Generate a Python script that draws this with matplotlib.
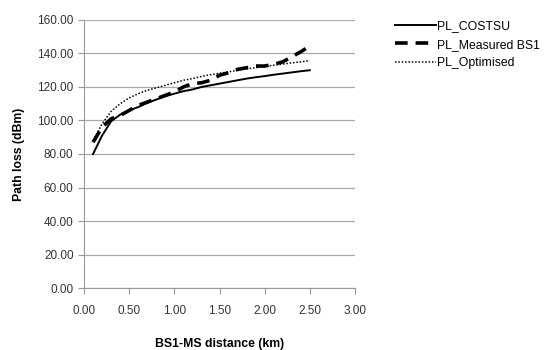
import matplotlib
matplotlib.use("Agg")
import matplotlib.pyplot as plt

# distances (km) and path loss values (dBm)
distance = [0.1, 0.2, 0.3, 0.4, 0.5, 0.6, 0.7, 0.8, 0.9, 1.0,
            1.1, 1.2, 1.3, 1.4, 1.5, 1.6, 1.7, 1.8, 1.9, 2.0,
            2.1, 2.2, 2.3, 2.4, 2.5]
pl_costsu = [80, 91, 99.5, 103.5, 106, 108, 110.5, 112.5, 114.5, 116,
             117.5, 118.5, 120, 121, 122, 123, 124, 125, 125.8, 126.5,
             127.3, 128, 128.7, 129.4, 130]
pl_measured = [87, 96, 101, 103, 106, 109, 111, 113, 115, 117,
               120, 122, 122.5, 124, 127, 128.5, 130.5, 131.5, 132.5, 132.5,
               133.5, 135, 138, 141, 144.5]
pl_optimised = [88, 98, 105.5, 110, 113.5, 116, 118, 119.5, 121, 122.5,
                124, 125, 126.3, 127.3, 128.2, 129, 130, 130.8, 131.5, 132.2,
                133, 133.7, 134.4, 135, 135.7]

x_ticks = [0.0, 0.5, 1.0, 1.5, 2.0, 2.5, 3.0]
y_ticks = [0, 20, 40, 60, 80, 100, 120, 140, 160]

plt.rcParams['font.family'] = ['Liberation Sans', 'DejaVu Sans']

fig = plt.figure(figsize=(5.47, 3.5), dpi=100)
ax = fig.add_axes([0.1536, 0.177, 0.4954, 0.766])

ax.plot(distance, pl_costsu, color='black', lw=1.4, label='PL_COSTSU')
ax.plot(distance, pl_measured, color='black', lw=2.6, dashes=(3.5, 2.2),
        label='PL_Measured BS1')
ax.plot(distance, pl_optimised, color='black', lw=1.1, dashes=(1, 1.2),
        label='PL_Optimised')

ax.set_xlim(0, 3)
ax.set_ylim(0, 160)
ax.set_xticks(x_ticks)
ax.set_yticks(y_ticks)
ax.set_xticklabels([f"{v:.2f}" for v in x_ticks])
ax.set_yticklabels([f"{v:.2f}" for v in y_ticks])
ax.tick_params(colors='#999999', labelcolor='#333333', labelsize=8.5,
               length=4, width=0.8)
ax.tick_params(axis='x', pad=8)
ax.grid(axis='y', color='#aaaaaa', lw=0.9)
ax.set_axisbelow(True)
for s in ['top', 'right']:
    ax.spines[s].set_visible(False)
for s in ['left', 'bottom']:
    ax.spines[s].set_color('#999999')

ax.set_xlabel('BS1-MS distance (km)', fontsize=8.8, fontweight='bold', labelpad=15)
ax.set_ylabel('Path loss (dBm)', fontsize=8.8, fontweight='bold', labelpad=9)

fig.legend(loc='upper left', bbox_to_anchor=(0.722, 0.943), frameon=False,
           fontsize=8.8, handlelength=3.35, handletextpad=0.1,
           labelspacing=0.55, borderpad=0, borderaxespad=0)

fig.savefig('out.png', dpi=100)
